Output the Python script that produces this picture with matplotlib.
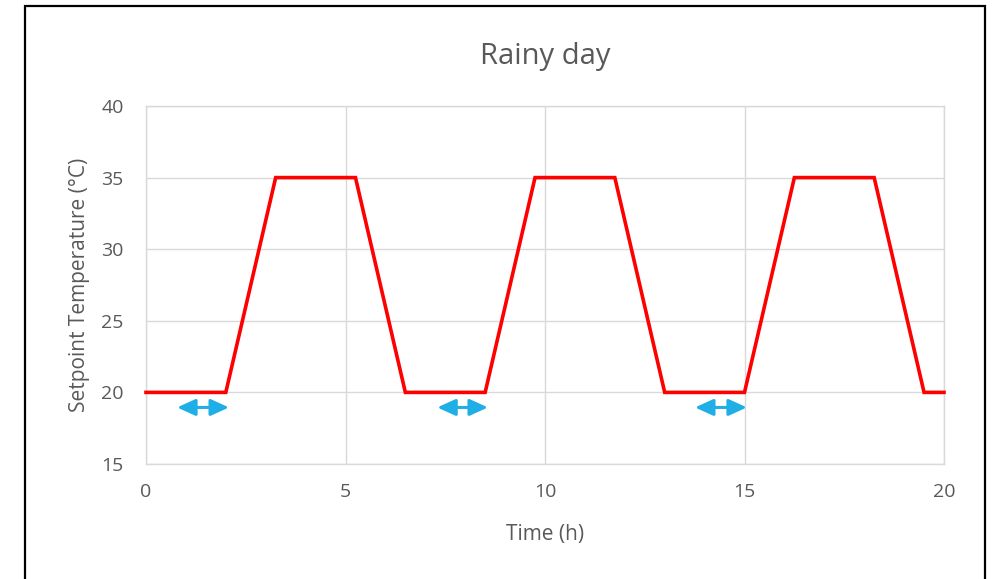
import matplotlib
matplotlib.use("Agg")
import matplotlib.pyplot as plt
from matplotlib.patches import Rectangle, FancyArrowPatch

time_h = [0, 2, 3.25, 5.25, 6.5, 8.5, 9.75, 11.75, 13, 15, 16.25, 18.25, 19.5, 20]
setpoint_c = [20, 20, 35, 35, 20, 20, 35, 35, 20, 20, 35, 35, 20, 20]
arrow_starts = [0.78, 7.3, 13.76]
arrow_ends = [2.08, 8.57, 15.06]
arrow_y = 18.95
x_ticks = [0, 5, 10, 15, 20]
y_ticks = [15, 20, 25, 30, 35, 40]

plt.rcParams['font.family'] = ['Open Sans', 'DejaVu Sans']
grey = '#595959'

fig = plt.figure(figsize=(9.92, 5.79), dpi=100)
W, H = 992, 579
ax = fig.add_axes([146 / W, 1 - 464 / H, (944 - 146) / W, (464 - 106) / H])

ax.plot(time_h, setpoint_c, color='#FF0000', lw=2.6, solid_joinstyle='miter', zorder=3, clip_on=False)

for s, e in zip(arrow_starts, arrow_ends):
    ax.add_patch(FancyArrowPatch((s, arrow_y), (e, arrow_y), arrowstyle='<|-|>,head_length=11,head_width=5',
                                 color='#1FAEE6', lw=2.2, mutation_scale=1, shrinkA=0, shrinkB=0, zorder=4))

ax.set_xlim(0, 20)
ax.set_ylim(15, 40)
ax.set_xticks(x_ticks)
ax.set_yticks(y_ticks)
ax.grid(True, color='#D9D9D9', lw=1)
ax.set_axisbelow(True)
for sp in ax.spines.values():
    sp.set_color('#D9D9D9')
    sp.set_linewidth(1)
ax.tick_params(axis='x', length=0, labelsize=14, colors=grey, pad=14)
ax.tick_params(axis='y', length=0, labelsize=14, colors=grey, pad=16)
ax.set_xlabel('Time (h)', fontsize=15, color=grey, labelpad=16)
ax.set_ylabel('Setpoint Temperature (°C)', fontsize=15, color=grey, labelpad=8)
ax.set_title('Rainy day', fontsize=21, color=grey, pad=30)

fig.add_artist(Rectangle((25 / W, -0.05), (985 - 25) / W, 1.05 - 6 / H, transform=fig.transFigure,
                         fill=False, edgecolor='black', lw=1.6))

fig.savefig('out.png', dpi=100)
